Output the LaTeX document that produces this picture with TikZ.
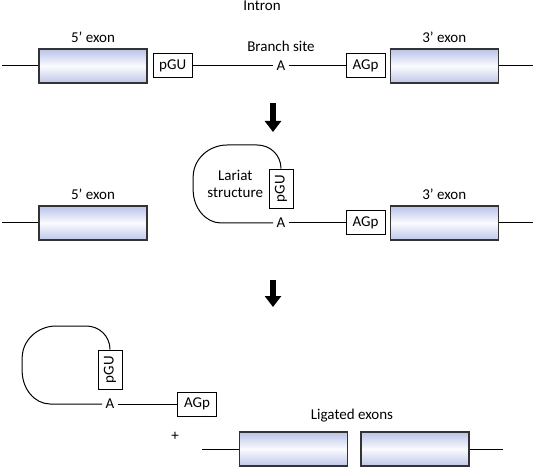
\documentclass[tikz,border=0pt]{standalone}
\usepackage{fontspec}
\setmainfont{Carlito}
\usepackage{graphicx}
\usepackage{tikz}
\usetikzlibrary{positioning,arrows.meta,calc}

\definecolor{exontop}{RGB}{186,195,233}
\definecolor{exonmid}{RGB}{250,251,254}
\definecolor{exonbot}{RGB}{190,199,233}

\begin{document}
\begin{tikzpicture}[x=1pt,y=-1pt,
  font=\fontsize{15pt}{17pt}\selectfont,
  line width=1pt,
  exonbox/.style={draw=black!80,line width=1.4pt,minimum width=108pt,minimum height=34pt,inner sep=0pt,
    top color=exontop,bottom color=exonbot,middle color=exonmid},
  sitebox/.style={draw,fill=white,minimum width=39pt,minimum height=24pt,inner sep=0pt},
  vsitebox/.style={sitebox,minimum width=24pt,minimum height=39pt},
  anode/.style={inner sep=3pt},
  lbl/.style={inner sep=0pt},
  downarrow/.style={line width=6pt,-{Triangle[length=11pt,width=16pt]}}]

  \useasboundingbox (0,0) rectangle (536,468);

  % intron with both exons
  \coordinate (s1) at (2,66);
  \node[exonbox] (ex5a) at (93,66) {};
  \node[sitebox] (gu1) [right=5pt of ex5a] {pGU};
  \node[anode] (a1) at (281,66) {A};
  \node[sitebox] (ag1) at (365.5,66) {AGp};
  \node[exonbox] (ex3a) [right=4pt of ag1] {};
  \coordinate (e1) at (533,66);

  \draw[] (s1)--(ex5a);
  \draw[] (gu1)--(a1);
  \draw[] (a1)--(ag1);
  \draw[] (ex3a)--(e1);

  \node[lbl] (l5a) [above=5pt of ex5a] {5’ exon};
  \node[lbl] (l3a) [above=5pt of ex3a] {3’ exon};
  \node[lbl] (br) [above=6pt of a1] {Branch site};
  \node[lbl] (intron) [above=29pt of br, xshift=-19pt] {Intron};

  \coordinate (d1a) at (273,103);
  \coordinate (d1b) at (273,132);
  \draw[downarrow] (d1a)--(d1b);

  % lariat formed
  \coordinate (s2) at (2,223);
  \node[exonbox] (ex5b) at (93,223) {};
  \node[anode] (a2) at (281,223) {A};
  \node[vsitebox] (gu2) [above=6pt of a2] {\rotatebox{90}{pGU}};
  \node[sitebox] (ag2) at (365.5,223) {AGp};
  \node[exonbox] (ex3b) [right=4pt of ag2] {};
  \coordinate (e2) at (533,223);

  \draw[] (s2)--(ex5b);
  \draw[] (a2)--(ag2);
  \draw[] (ex3b)--(e2);
  \draw[] (a2.west) -- ++(-52,0) .. controls +(-15.4,0) and +(0,18) .. ++(-28,-33)
    -- ++(0,-13) .. controls +(0,-17.6) and +(-18.7,0) .. ++(34,-32)
    -- ++(30,0) .. controls +(12.4,0) and +(0,-14.3) .. (gu2.north);

  \node[lbl] (l5b) [above=5pt of ex5b] {5’ exon};
  \node[lbl] (l3b) [above=5pt of ex3b] {3’ exon};
  \node[lbl,align=center] (lariat) [left=5pt of gu2, yshift=5pt] {Lariat\\structure};

  \coordinate (d2a) at (273,280);
  \coordinate (d2b) at (273,307);
  \draw[downarrow] (d2a)--(d2b);

  % released lariat and ligated exons
  \node[anode] (a3) at (110,404) {A};
  \node[vsitebox] (gu3) [above=6pt of a3] {\rotatebox{90}{pGU}};
  \node[sitebox] (ag3) at (197,404) {AGp};

  \draw[] (a3)--(ag3);
  \draw[] (a3.west) -- ++(-52,0) .. controls +(-15.4,0) and +(0,18) .. ++(-28,-33)
    -- ++(0,-13) .. controls +(0,-17.6) and +(-18.7,0) .. ++(34,-32)
    -- ++(30,0) .. controls +(12.4,0) and +(0,-14.3) .. (gu3.north);

  \node[lbl] (plus) at (175,436) {+};

  \coordinate (s3) at (202,449);
  \node[exonbox] (lig1) at (293.5,449) {};
  \node[exonbox] (lig2) [right=12pt of lig1] {};
  \coordinate (e3) at (503,449);

  \draw[] (s3)--(lig1);
  \draw[] (lig2)--(e3);

  \node[lbl,anchor=base] (ligated) at (352,419) {Ligated exons};

\end{tikzpicture}
\end{document}
